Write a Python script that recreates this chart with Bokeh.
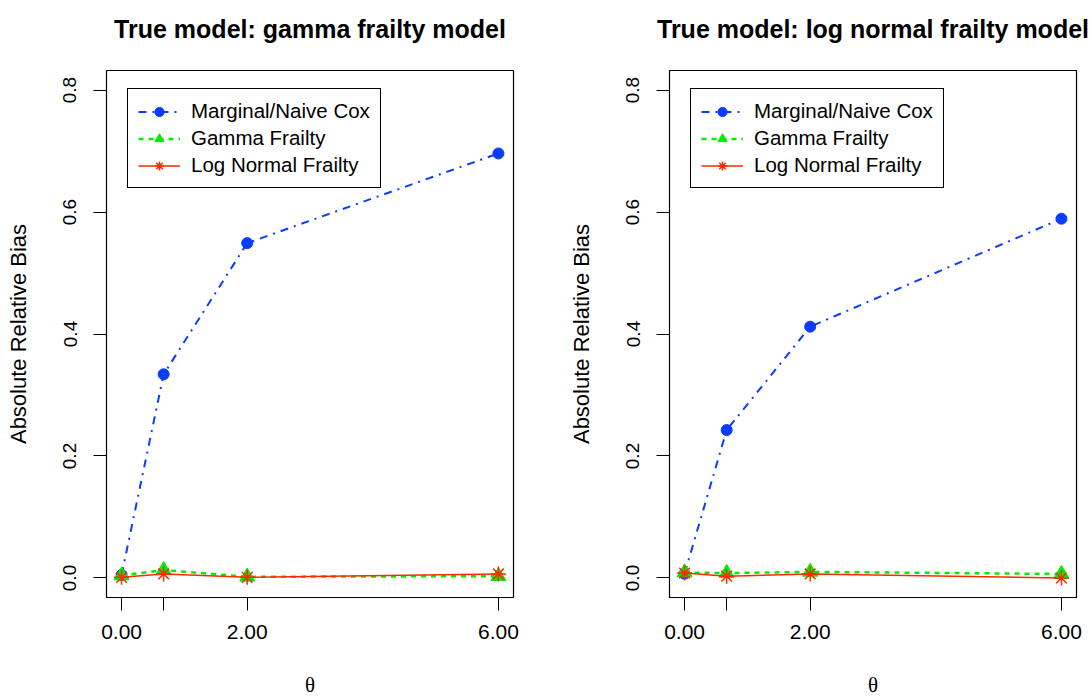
from bokeh.plotting import figure
from bokeh.layouts import row
from bokeh.models import FixedTicker, Legend, LegendItem, Title
from bokeh.embed import file_html
from bokeh.resources import INLINE

# ---- data ----
theta = [0.0, 0.67, 2.0, 6.0]
theta_labels = {0.0: "0.00", 0.67: "", 2.0: "2.00", 6.0: "6.00"}
y_ticks = [0.0, 0.2, 0.4, 0.6, 0.8]
y_labels = {0.0: "0.0", 0.2: "0.2", 0.4: "0.4", 0.6: "0.6", 0.8: "0.8"}

series_names = ["Marginal/Naive Cox", "Gamma Frailty", "Log Normal Frailty"]

# True model: gamma frailty
g_naive = [0.005, 0.334, 0.549, 0.696]
g_gamma = [0.004, 0.013, 0.002, 0.003]
g_lognormal = [0.001, 0.0066, 0.001, 0.0066]

# True model: log normal frailty
l_naive = [0.007, 0.2425, 0.412, 0.589]
l_gamma = [0.009, 0.008, 0.010, 0.0066]
l_lognormal = [0.008, 0.003, 0.0066, 0.0]

titles = ["True model: gamma frailty model", "True model: log normal frailty model"]

BLUE = "#0a3cff"
GREEN = "#00ee00"
RED = "#ff2a00"
FONT = "Liberation Sans"


def make_panel(title, naive, gam, logn, left_border, right_border):
    p = figure(width=546, height=700, x_range=(-0.24, 6.24), y_range=(-0.032, 0.832),
               output_backend="svg", toolbar_location=None,
               min_border_left=left_border, min_border_right=right_border,
               min_border_top=70, min_border_bottom=103)
    # real title
    p.title.text = title
    p.title.text_font = FONT
    p.title.text_font_size = "25px"
    p.title.text_font_style = "bold"
    p.title.text_color = "black"
    p.title.align = "center"
    p.title.standoff = 10
    # blank spacer between the title and the frame
    spacer = Title(text=" ", text_font_size="10px", standoff=10)
    p.add_layout(spacer, "above")

    p.grid.visible = False
    p.outline_line_color = "black"
    p.outline_line_width = 1.2
    p.outline_line_alpha = 1.0
    p.background_fill_color = "white"
    p.border_fill_color = "white"

    # x axis
    xa = p.xaxis[0]
    xa.ticker = FixedTicker(ticks=theta)
    xa.major_label_overrides = theta_labels
    xa.major_tick_out = 13
    xa.major_tick_in = 0
    xa.major_tick_line_color = "black"
    xa.minor_tick_line_color = None
    xa.major_label_text_font = FONT
    xa.major_label_text_font_size = "21px"
    xa.major_label_text_color = "black"
    xa.major_label_standoff = 14
    xa.axis_label = "θ"
    xa.axis_label_text_font = "Liberation Serif"
    xa.axis_label_text_font_size = "21px"
    xa.axis_label_text_font_style = "normal"
    xa.axis_label_text_color = "black"
    xa.axis_label_standoff = 31
    xa.axis_line_color = "black"

    # y axis
    ya = p.yaxis[0]
    ya.ticker = FixedTicker(ticks=y_ticks)
    ya.major_label_overrides = y_labels
    ya.major_label_orientation = "vertical"
    ya.major_tick_out = 13
    ya.major_tick_in = 0
    ya.major_tick_line_color = "black"
    ya.minor_tick_line_color = None
    ya.major_label_text_font = FONT
    ya.major_label_text_font_size = "19px"
    ya.major_label_text_color = "black"
    ya.major_label_standoff = 17
    ya.axis_label = "Absolute Relative Bias"
    ya.axis_label_text_font = FONT
    ya.axis_label_text_font_size = "22px"
    ya.axis_label_text_font_style = "normal"
    ya.axis_label_text_color = "black"
    ya.axis_label_standoff = 30
    ya.axis_line_color = "black"

    # series
    l1 = p.line(theta, naive, line_color=BLUE, line_width=2, line_dash="8 6 2 6")
    s1 = p.scatter(theta, naive, marker="circle", size=11, fill_color=BLUE, line_color=BLUE)
    l2 = p.line(theta, gam, line_color=GREEN, line_width=2.5, line_dash="5 5")
    s2 = p.scatter(theta, gam, marker="triangle", size=15, fill_color=GREEN, line_color=GREEN)
    l3 = p.line(theta, logn, line_color=RED, line_width=1.5)
    s3 = p.scatter(theta, logn, marker="asterisk", size=15, line_color=RED, line_width=1.5)

    legend = Legend(items=[
        LegendItem(label=series_names[0], renderers=[l1, s1]),
        LegendItem(label=series_names[1], renderers=[l2, s2]),
        LegendItem(label=series_names[2], renderers=[l3, s3]),
    ], location=(21, 409))
    legend.label_text_font = FONT
    legend.label_text_font_size = "20.5px"
    legend.label_text_color = "black"
    legend.label_height = 23
    legend.glyph_height = 23
    legend.glyph_width = 42
    legend.label_standoff = 11
    legend.spacing = 3
    legend.padding = 10
    legend.margin = 0
    legend.border_line_color = "black"
    legend.border_line_width = 1.2
    legend.border_line_alpha = 1.0
    legend.background_fill_alpha = 1.0
    p.add_layout(legend, "center")
    return p


p1 = make_panel(titles[0], g_naive, g_gamma, g_lognormal, 106, 33)
p2 = make_panel(titles[1], l_naive, l_gamma, l_lognormal, 123, 16)

layout = row(p1, p2)
open("out.html", "w").write(file_html(layout, INLINE))
